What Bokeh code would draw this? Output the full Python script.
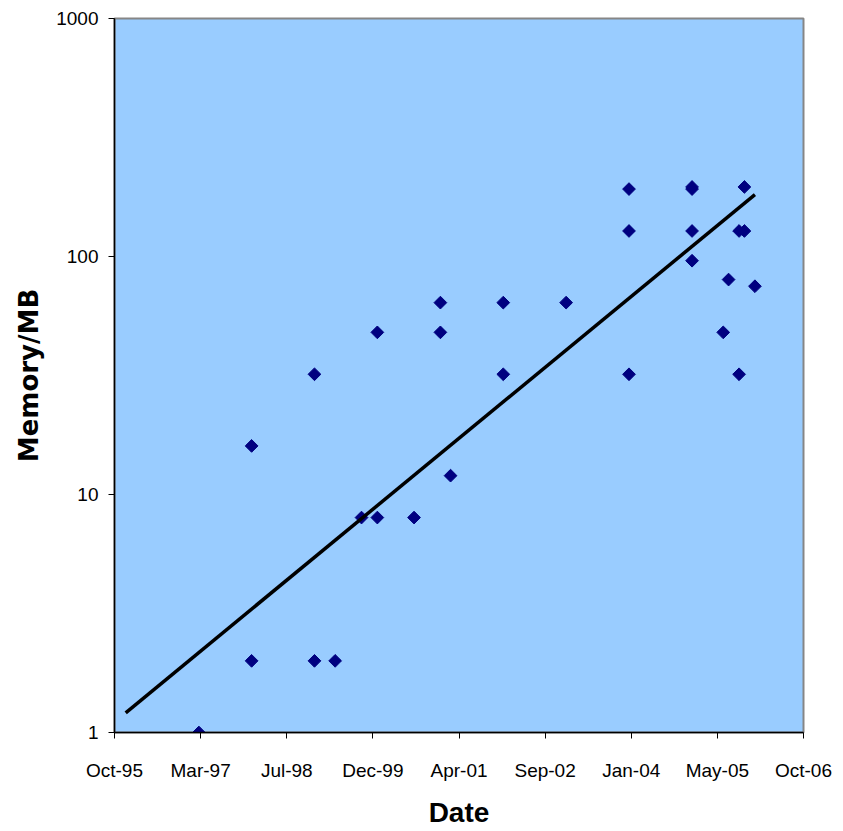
import math
from datetime import datetime
from bokeh.plotting import figure
from bokeh.models import Range1d, FixedTicker, DatetimeTickFormatter, NumeralTickFormatter
from bokeh.embed import file_html
from bokeh.resources import INLINE

# ---- data ----
release_dates = [
    "1997-03-01", "1998-01-01", "1998-01-01", "1999-01-01", "1999-01-01",
    "1999-05-01", "1999-10-01", "2000-01-01", "2000-01-01", "2000-08-01",
    "2001-01-01", "2001-01-01", "2001-03-01", "2002-01-01", "2002-01-01",
    "2003-01-01", "2004-01-01", "2004-01-01", "2004-01-01", "2005-01-01",
    "2005-01-01", "2005-01-01", "2005-01-01", "2005-07-01", "2005-08-01",
    "2005-10-01", "2005-10-01", "2005-11-01", "2005-11-01", "2006-01-01",
]
memory_mb = [
    1, 16, 2, 32, 2,
    2, 8, 8, 48, 8,
    64, 48, 12, 64, 32,
    64, 192, 128, 32, 192,
    196, 128, 96, 48, 80,
    128, 32, 196, 128, 75,
]

trend_dates = ["1996-01-01", "2006-01-01"]
trend_mb = [1.21, 182]

x_tick_dates = ["1995-10-28", "1997-03-11", "1998-07-24", "1999-12-06", "2001-04-19",
                "2002-09-01", "2004-01-14", "2005-05-28", "2006-10-10"]
x_tick_labels = ["Oct-95", "Mar-97", "Jul-98", "Dec-99", "Apr-01",
                 "Sep-02", "Jan-04", "May-05", "Oct-06"]
y_ticks = [1, 10, 100, 1000]
y_tick_labels = ["1", "10", "100", "1000"]

# ---- helpers ----
EPOCH = datetime(1970, 1, 1)


def to_dt(s):
    return datetime.strptime(s, "%Y-%m-%d")


def to_ms(s):
    return (to_dt(s) - EPOCH).total_seconds() * 1000.0


xs = [to_dt(d) for d in release_dates]
txs = [to_dt(d) for d in trend_dates]
x_ticks_ms = [to_ms(d) for d in x_tick_dates]

W, H = 835, 830
p = figure(
    width=W, height=H,
    x_axis_type="datetime", y_axis_type="log",
    x_range=Range1d(to_dt(x_tick_dates[0]), to_dt(x_tick_dates[-1])),
    y_range=Range1d(y_ticks[0], y_ticks[-1]),
    output_backend="svg", toolbar_location=None,
    min_border_left=114, min_border_right=W - 803, min_border_top=18,
    min_border_bottom=H - 732,
    border_fill_color="white",
)
p.background_fill_color = "#99CCFF"
p.outline_line_color = "#868686"
p.outline_line_width = 2
p.xgrid.visible = False
p.ygrid.visible = False

# x axis
xa = p.xaxis[0]
xa.ticker = FixedTicker(ticks=x_ticks_ms, minor_ticks=[])
fmt = "%b-%y"
xa.formatter = DatetimeTickFormatter(
    milliseconds=fmt, seconds=fmt, minsec=fmt, minutes=fmt, hourmin=fmt,
    hours=fmt, days=fmt, months=fmt, years=fmt)
xa.major_label_overrides = {t: lab for t, lab in zip(x_ticks_ms, x_tick_labels)}
xa.axis_label = "Date"

# y axis
ya = p.yaxis[0]
ya.ticker = FixedTicker(ticks=y_ticks, minor_ticks=[])
ya.formatter = NumeralTickFormatter(format="0")
ya.major_label_overrides = {t: lab for t, lab in zip(y_ticks, y_tick_labels)}
ya.axis_label = "Memory/MB"

for ax in (xa, ya):
    ax.axis_line_color = "black"
    ax.axis_line_width = 1.5
    ax.major_tick_line_color = "black"
    ax.major_tick_line_width = 1
    ax.major_tick_in = 0
    ax.major_tick_out = 6
    ax.minor_tick_line_color = None
    ax.major_label_text_font = "Liberation Sans"
    ax.major_label_text_font_size = "19px"
    ax.major_label_text_color = "black"
    ax.axis_label_text_font_style = "bold"
    ax.axis_label_text_color = "black"

xa.major_label_standoff = 21
xa.axis_label_text_font = "Liberation Sans"
xa.axis_label_text_font_size = "28px"
xa.axis_label_standoff = 13

ya.major_label_standoff = 10
ya.axis_label_text_font = "DejaVu Sans"
ya.axis_label_text_font_size = "26px"
ya.axis_label_standoff = 9

p.scatter(xs, memory_mb, marker="square", size=9, angle=math.pi / 4,
          fill_color="#000080", line_color="#000080")
p.line(txs, trend_mb, line_color="black", line_width=3.5)

open("out.html", "w").write(file_html(p, INLINE))
